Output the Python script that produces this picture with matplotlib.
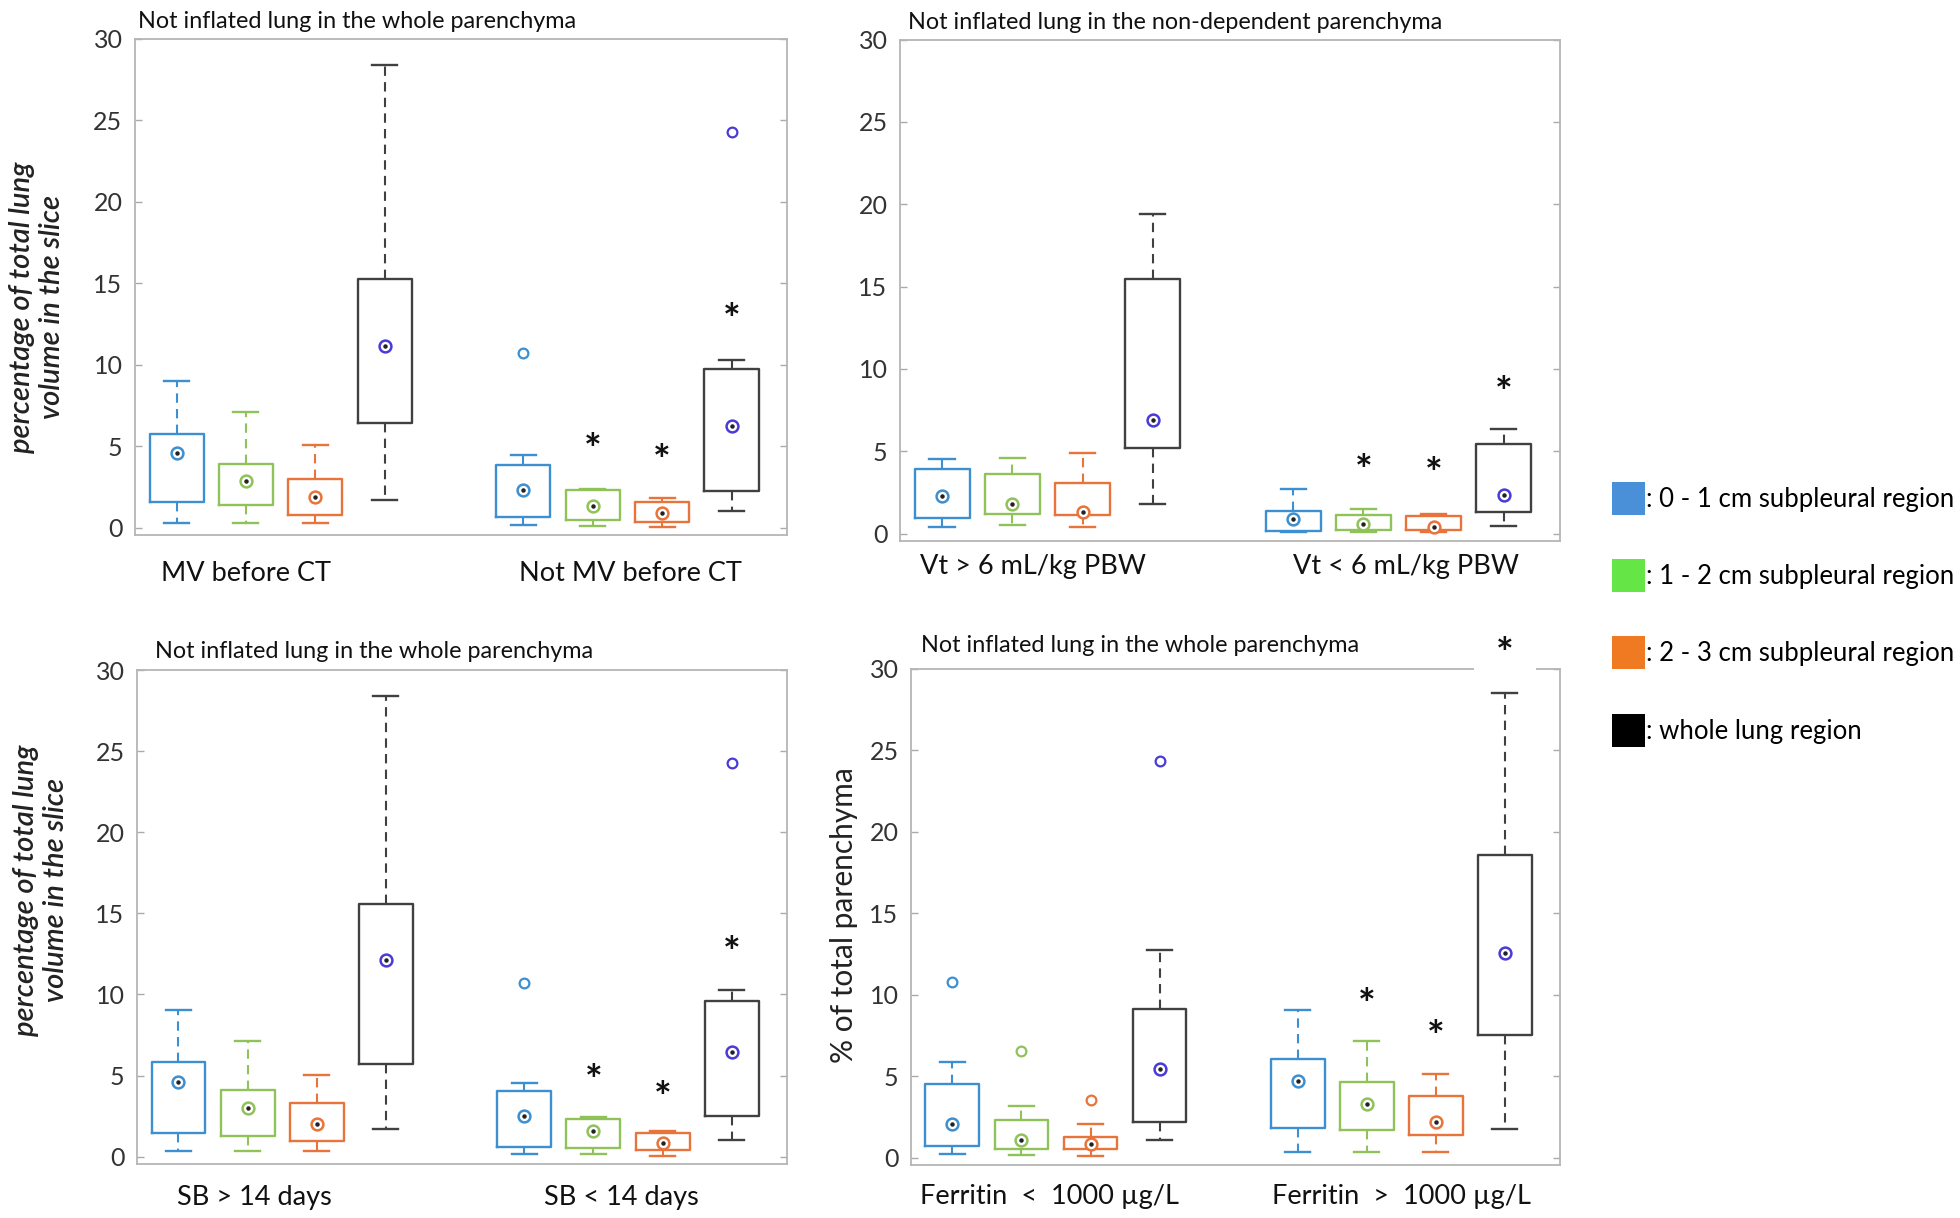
import matplotlib.pyplot as plt
from matplotlib.patches import Patch

plt.rcParams["font.family"] = ["Lato", "DejaVu Sans"]

# ------------------------------------------------------------
# data
# ------------------------------------------------------------
region_names = [": 0 - 1 cm subpleural region", ": 1 - 2 cm subpleural region",
                ": 2 - 3 cm subpleural region", ": whole lung region"]

# panel A: MV before CT
a_title = "Not inflated lung in the whole parenchyma"
a_groups = ["MV before CT", "Not MV before CT"]
a_lo = [0.28, 0.28, 0.28, 1.70, 0.17, 0.12, 0.05, 1.04]
a_q1 = [1.58, 1.39, 0.80, 6.42, 0.64, 0.47, 0.35, 2.24]
a_med = [4.58, 2.88, 1.86, 11.13, 2.29, 1.34, 0.87, 6.23]
a_q3 = [5.78, 3.89, 3.00, 15.26, 3.82, 2.29, 1.58, 9.76]
a_hi = [9.00, 7.12, 5.05, 28.40, 4.48, 2.36, 1.82, 10.30]
a_out = [(4, 10.7), (7, 24.27)]
a_star = [(5, 5.24), (6, 4.55), (7, 13.2)]

# panel B: tidal volume
b_title = "Not inflated lung in the non-dependent parenchyma"
b_groups = ["Vt > 6 mL/kg PBW", "Vt < 6 mL/kg PBW"]
b_lo = [0.40, 0.54, 0.42, 1.80, 0.12, 0.12, 0.07, 0.47]
b_q1 = [0.93, 1.17, 1.10, 5.20, 0.16, 0.19, 0.19, 1.33]
b_med = [2.26, 1.79, 1.33, 6.92, 0.86, 0.58, 0.40, 2.33]
b_q3 = [3.92, 3.61, 3.10, 15.45, 1.40, 1.10, 1.05, 5.43]
b_hi = [4.50, 4.59, 4.90, 19.40, 2.68, 1.47, 1.17, 6.36]
b_out = []
b_star = [(5, 4.24), (6, 4.08), (7, 9.02)]

# panel C: spontaneous breathing
c_title = "Not inflated lung in the whole parenchyma"
c_groups = ["SB > 14 days", "SB < 14 days"]
c_lo = [0.35, 0.35, 0.35, 1.72, 0.19, 0.14, 0.02, 1.06]
c_q1 = [1.49, 1.25, 0.97, 5.74, 0.59, 0.54, 0.43, 2.50]
c_med = [4.61, 3.02, 2.00, 12.12, 2.50, 1.61, 0.83, 6.45]
c_q3 = [5.86, 4.09, 3.33, 15.60, 4.04, 2.32, 1.49, 9.59]
c_hi = [9.05, 7.16, 5.03, 28.42, 4.56, 2.43, 1.56, 10.30]
c_out = [(4, 10.7), (7, 24.24)]
c_star = [(5, 5.15), (6, 4.09), (7, 13.06)]

# panel D: ferritin
d_title = "Not inflated lung in the whole parenchyma"
d_groups = ["Ferritin  <  1000 \u00b5g/L", "Ferritin  >  1000 \u00b5g/L"]
d_lo = [0.24, 0.17, 0.12, 1.11, 0.35, 0.35, 0.35, 1.77]
d_q1 = [0.71, 0.52, 0.52, 2.19, 1.82, 1.70, 1.42, 7.55]
d_med = [2.08, 1.11, 0.83, 5.47, 4.72, 3.30, 2.19, 12.55]
d_q3 = [4.55, 2.31, 1.25, 9.15, 6.06, 4.65, 3.77, 18.58]
d_hi = [5.90, 3.18, 2.05, 12.74, 9.08, 7.19, 5.12, 28.54]
d_out = [(0, 10.78), (1, 6.56), (2, 3.54), (3, 24.36)]
d_star = [(5, 9.83), (6, 7.90), (7, 31.4)]

# ------------------------------------------------------------
# style
# ------------------------------------------------------------
positions = [1, 2, 3, 4, 6, 7, 8, 9]
box_colors = ["#3c8fd0", "#90c25a", "#e8743b", "#404040"] * 2
med_colors = ["#3c8fd0", "#90c25a", "#e8743b", "#4a3ad8"] * 2
legend_colors = ["#4a90d9", "#66e646", "#f07a22", "#000000"]
W, H = 1960, 1218


def px_axes(fig, left, top, right, bottom):
    return fig.add_axes([left / W, 1 - bottom / H, (right - left) / W, (bottom - top) / H])


def draw_panel(ax, title, title_xy, groups, group_x, group_y,
               lo, q1, med, q3, hi, outliers, stars):
    stats = []
    for i in range(len(med)):
        stats.append(dict(med=med[i], q1=q1[i], q3=q3[i],
                          whislo=lo[i], whishi=hi[i], fliers=[]))
    # boxes drawn above the star's white background (which hides the frame)
    bp = ax.bxp(stats, positions=positions, widths=0.78, capwidths=0.36,
                showfliers=False, zorder=7,
                boxprops=dict(linewidth=1.7),
                whiskerprops=dict(linewidth=1.5, linestyle=(0, (4.5, 3))),
                capprops=dict(linewidth=1.7),
                medianprops=dict(linewidth=0))
    for i, c in enumerate(box_colors):
        bp["boxes"][i].set_color(c)
        for k in (2 * i, 2 * i + 1):
            bp["whiskers"][k].set_color(c)
            bp["caps"][k].set_color(c)

    # median as "target" marker
    for i in range(len(med)):
        ax.plot(positions[i], med[i], "o", ms=8.5, mfc="white",
                mec=med_colors[i], mew=1.8, zorder=8)
        ax.plot(positions[i], med[i], "o", ms=2.2, color="#222222", zorder=9)

    for i, v in outliers:
        ax.plot(positions[i], v, "o", ms=7, mfc="none", mec=med_colors[i], mew=1.6,
                zorder=8)

    for i, v in stars:
        ax.annotate("*", (positions[i], v), xytext=(0, -7), textcoords="offset points",
                    ha="center", va="center", fontsize=30, fontweight="bold",
                    color="#111111", annotation_clip=False,
                    bbox=dict(facecolor="white", edgecolor="none", pad=16) if v > 30 else None,
                    zorder=6)

    ax.set_xlim(0.4, 9.8)
    ax.set_ylim(-0.45, 30)
    ax.set_yticks([0, 5, 10, 15, 20, 25, 30])
    ax.set_xticks([])
    ax.tick_params(axis="y", direction="in", length=5, width=1, color="#aaaaaa",
                   right=True, labelsize=18, labelcolor="#333333", pad=9)
    for s in ax.spines.values():
        s.set_color("#b5b5b5")
        s.set_linewidth(1.3)

    ax.text(title_xy[0], title_xy[1], title, transform=ax.transAxes,
            ha="left", va="center", fontsize=16.8, color="#111111")
    for gx, g in zip(group_x, groups):
        ax.text(gx, group_y, g, transform=ax.get_xaxis_transform(),
                ha="center", va="center", fontsize=19.5, color="#111111")


fig = plt.figure(figsize=(19.6, 12.18), dpi=100)

ax_a = px_axes(fig, 135, 39, 787, 535)
ax_b = px_axes(fig, 900, 39.5, 1560, 541)
ax_c = px_axes(fig, 137, 670, 787, 1164)
ax_d = px_axes(fig, 911, 669, 1560, 1165)

draw_panel(ax_a, a_title, (0.005, 1.036), a_groups, [2.0, 7.55], -0.078,
           a_lo, a_q1, a_med, a_q3, a_hi, a_out, a_star)
draw_panel(ax_b, b_title, (0.012, 1.033), b_groups, [2.3, 7.6], -0.05,
           b_lo, b_q1, b_med, b_q3, b_hi, b_out, b_star)
draw_panel(ax_c, c_title, (0.028, 1.038), c_groups, [2.1, 7.4], -0.067,
           c_lo, c_q1, c_med, c_q3, c_hi, c_out, c_star)
draw_panel(ax_d, d_title, (0.015, 1.048), d_groups, [2.4, 7.5], -0.063,
           d_lo, d_q1, d_med, d_q3, d_hi, d_out, d_star)

ylab = "percentage of total lung\nvolume in the slice"
for ax, xy in ((ax_a, (-0.150, 0.46)), (ax_c, (-0.148, 0.555))):
    ax.set_ylabel(ylab, fontsize=21, style="italic", fontweight="semibold",
                  color="#222222", ha="center", va="center", linespacing=1.2)
    ax.yaxis.set_label_coords(*xy)
ax_d.set_ylabel("% of total parenchyma", fontsize=21.5, color="#222222",
                ha="center", va="center")
ax_d.yaxis.set_label_coords(-0.103, 0.504)

handles = [Patch(facecolor=c, edgecolor="none") for c in legend_colors]
fig.legend(handles, region_names, loc="upper left",
           bbox_to_anchor=(1612 / W, 1 - 482 / H), frameon=False,
           fontsize=18.5, handlelength=1.28, handleheight=1.6,
           handletextpad=0.05, labelspacing=1.72, borderpad=0, borderaxespad=0)

fig.savefig("out.png", dpi=100, facecolor="white")
